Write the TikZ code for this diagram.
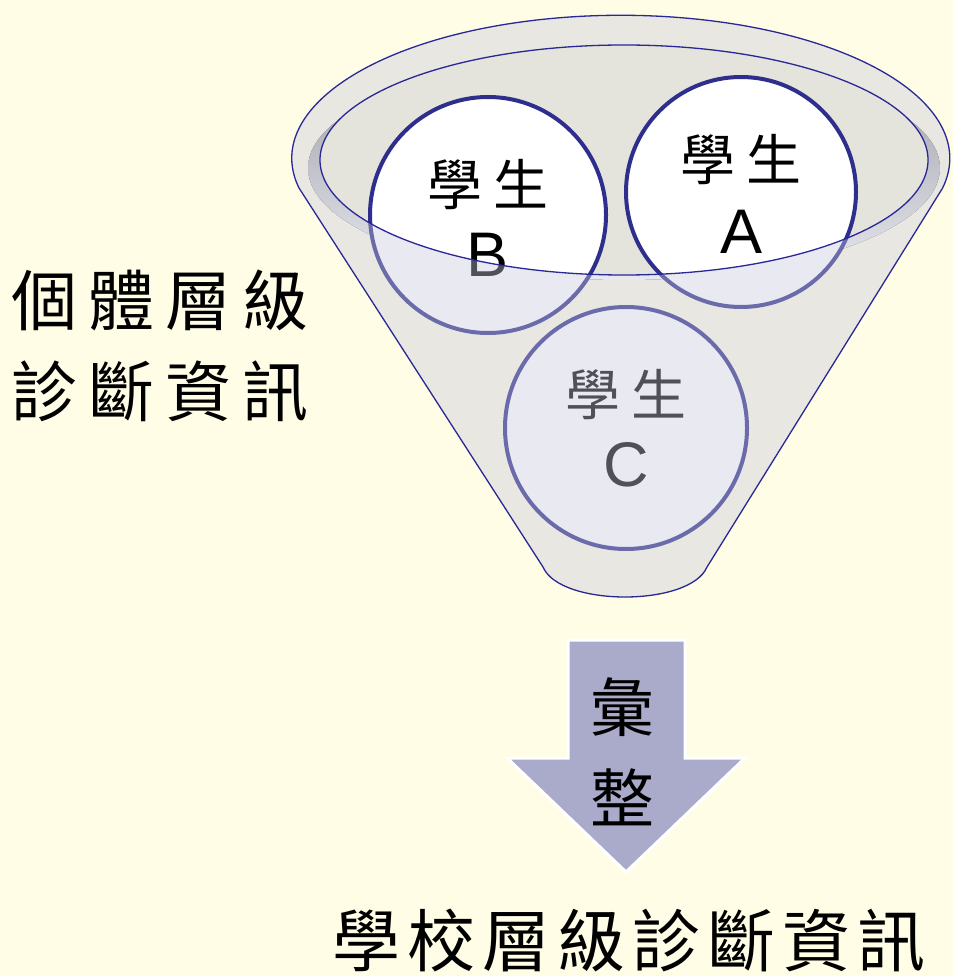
\documentclass[tikz,border=0pt]{standalone}
\usepackage{fontspec}
\newfontfamily\cjk{Noto Sans CJK TC}
\newfontfamily\latin{Liberation Sans}
\newcommand{\kgap}{\hspace{11pt}}
\newcommand{\sgap}{\hspace{7pt}}
\definecolor{paper}{RGB}{255,253,230}
\definecolor{rimline}{RGB}{40,40,150}
\definecolor{circline}{RGB}{46,46,140}
\definecolor{bowl}{RGB}{228,227,220}
\definecolor{shade}{RGB}{232,232,244}
\definecolor{glass}{RGB}{200,200,220}
\definecolor{arrowfill}{RGB}{170,170,202}

\begin{document}
\begin{tikzpicture}[x=1pt,y=-1pt,
  student/.style={circle,draw=circline,line width=4pt,fill=white,inner sep=0pt},
  stutext/.style={font=\cjk\fontsize{55}{60}\selectfont},
  stuletter/.style={font=\latin\fontsize{63}{70}\selectfont},
  sidetext/.style={font=\cjk\fontsize{66}{91}\selectfont,align=center},
  bottomtext/.style={font=\cjk\fontsize{68}{80}\selectfont}]

\useasboundingbox (0,0) rectangle (953,976);
\fill [paper] (0,0) rectangle (953,976);

% funnel back
\fill [shade] (624,168) ellipse [x radius=316, y radius=112];
\fill [bowl] (624,160) ellipse [x radius=304, y radius=115];

% students
\node [student, minimum size=236pt] (studB) at (488,215) {};
\node [student, minimum size=230pt] (studA) at (741,192) {};
\node [student, minimum size=242pt] (studC) at (626,428) {};

\node [stutext] (nameB) at (488,185) {學\kgap 生};
\node [stuletter] (letB) at (488,255) {B};
\node [stutext] (nameA) at (741,160) {學\kgap 生};
\node [stuletter] (letA) at (741,232) {A};
\node [stutext] (nameC) at (626,395) {學\kgap 生};
\node [stuletter] (letC) at (626,465) {C};

% funnel front
\fill [glass, opacity=0.4, even odd rule]
  (299,188) arc [start angle=168, end angle=372, x radius=329, y radius=143]
  -- (707,567) .. controls (690,607) and (560,607) .. (543,567) -- cycle
  (624,160) ellipse [x radius=304, y radius=115];

\draw [rimline, line width=1.3pt]
  (299,188) arc [start angle=168, end angle=372, x radius=329, y radius=143]
  -- (707,567) .. controls (690,607) and (560,607) .. (543,567) -- cycle;
\draw [rimline, line width=1.3pt] (624,160) ellipse [x radius=304, y radius=115];

% arrow
\draw [white, line width=3pt, fill=arrowfill, line join=miter]
  (568,640) -- (685,640) -- (685,758) -- (745,758) -- (626,872)
  -- (507,758) -- (568,758) -- cycle;
\node [font=\cjk\fontsize{64}{70}\selectfont] (hui) at (622,707) {彙};
\node [font=\cjk\fontsize{64}{70}\selectfont] (zheng) at (622,797) {整};

% texts
\node [sidetext] (personal) at (160,346) {個\kgap 體\kgap 層\kgap 級\\診\kgap 斷\kgap 資\kgap 訊};
\node [bottomtext] (school) at (629,940) {學\sgap 校\sgap 層\sgap 級\sgap 診\sgap 斷\sgap 資\sgap 訊};

\end{tikzpicture}
\end{document}
